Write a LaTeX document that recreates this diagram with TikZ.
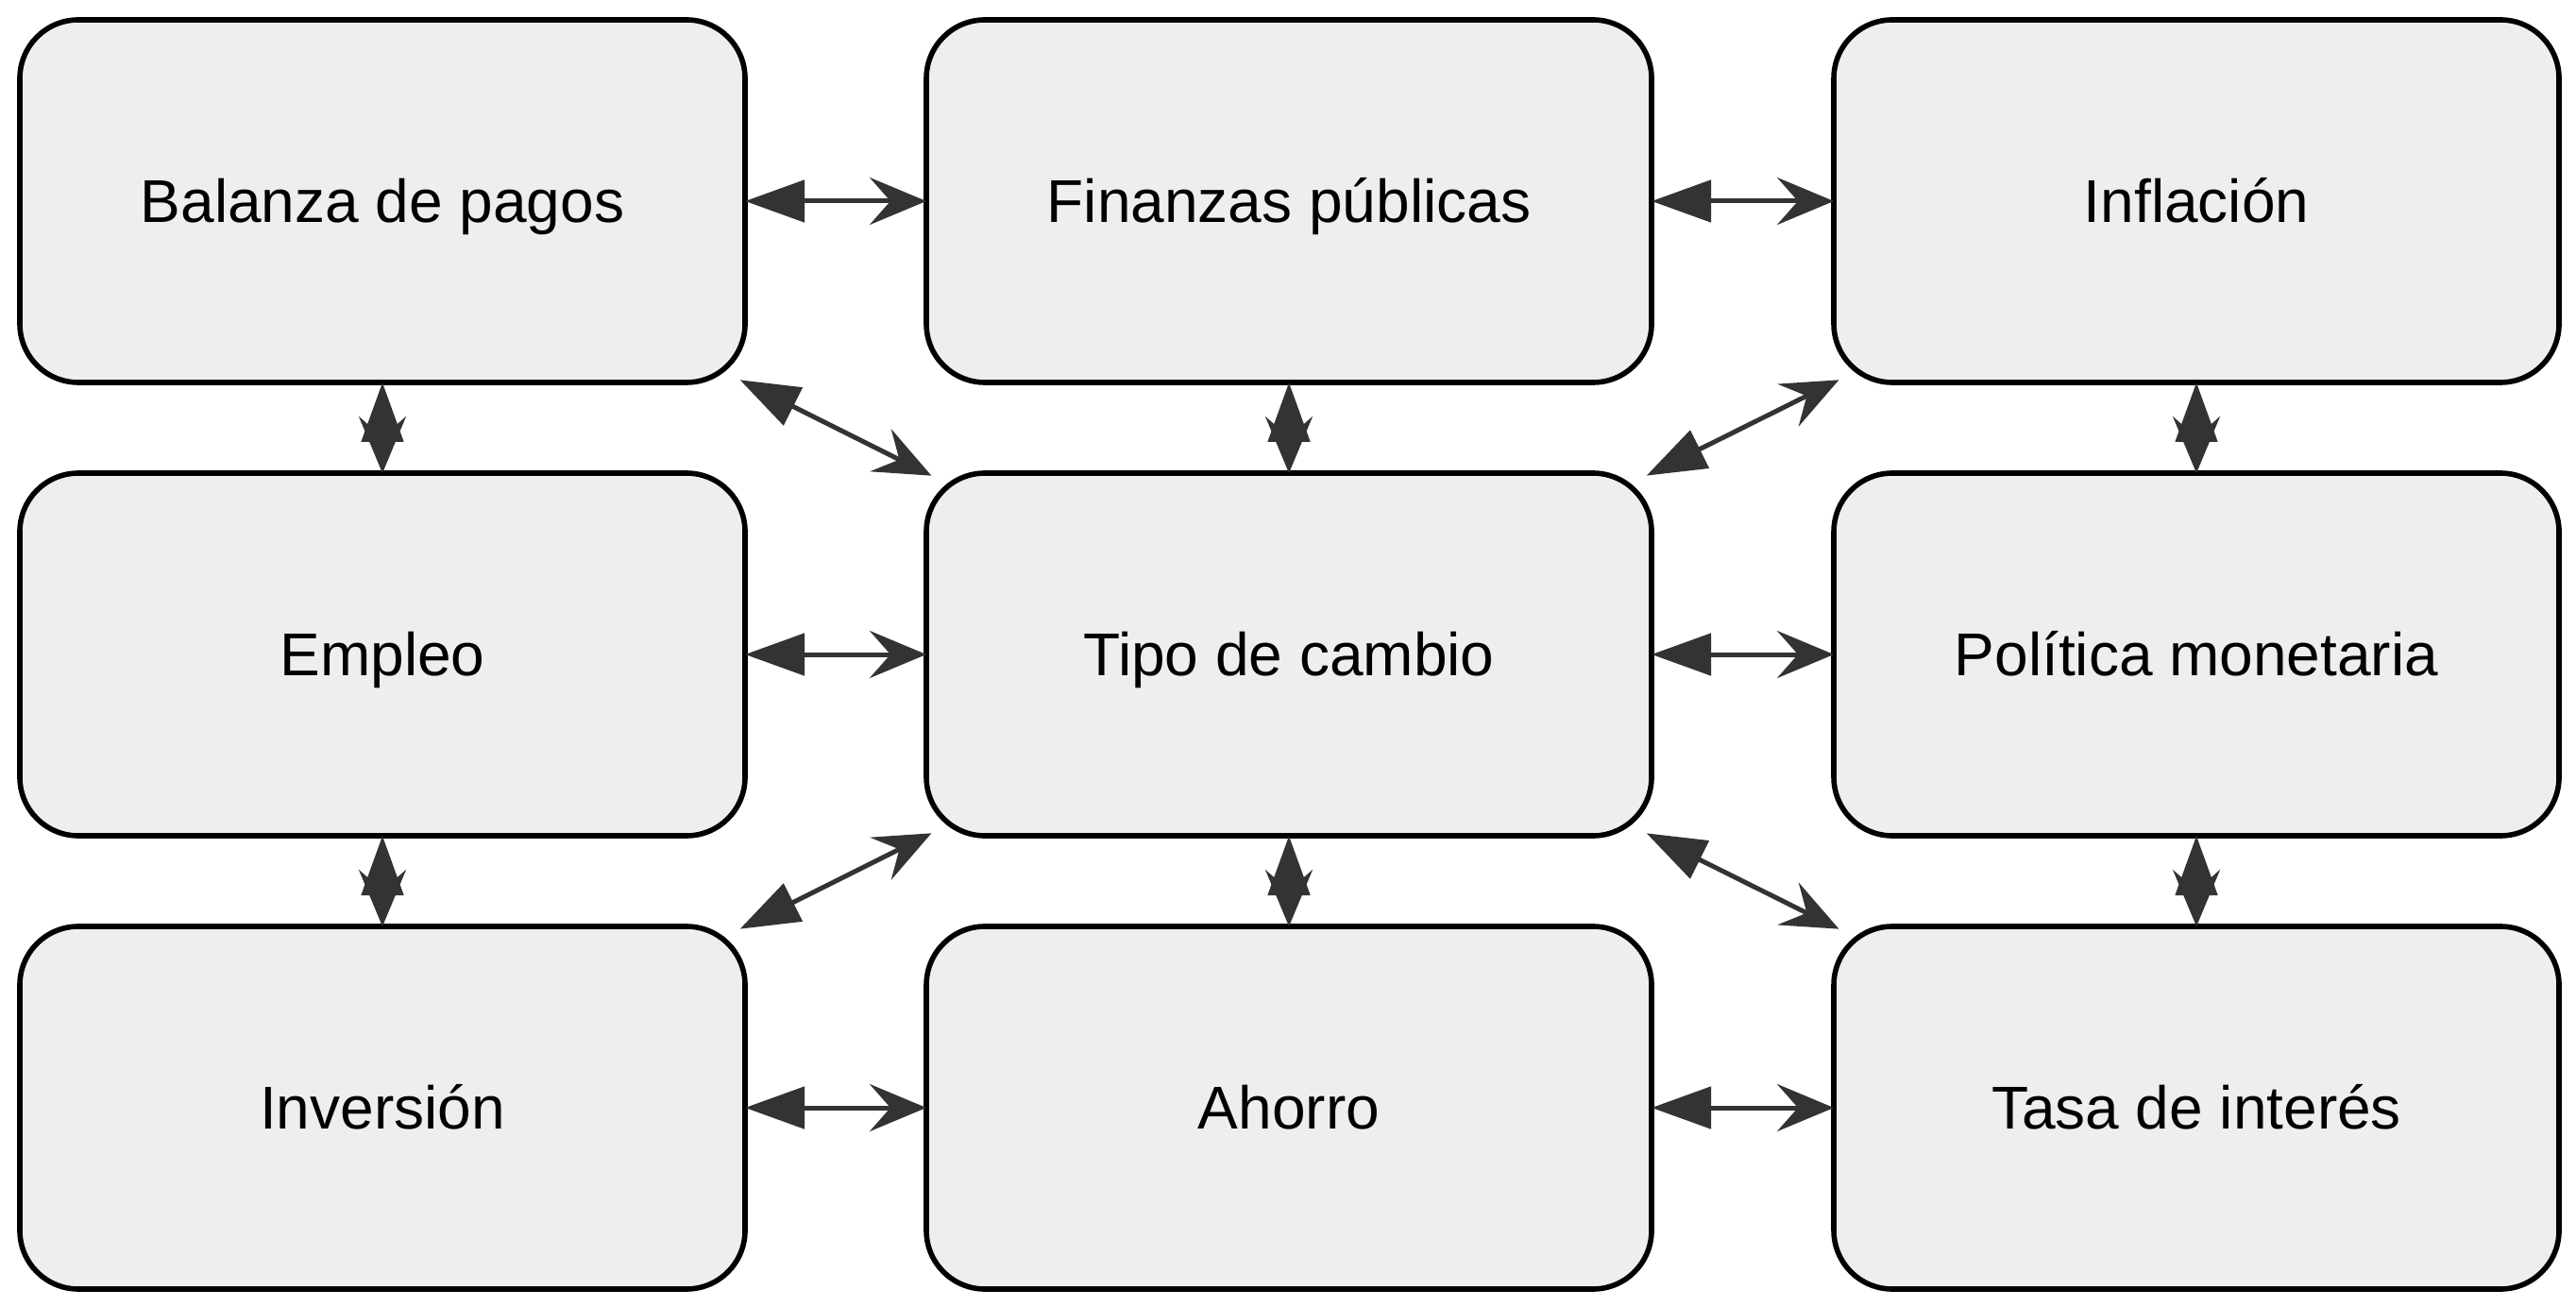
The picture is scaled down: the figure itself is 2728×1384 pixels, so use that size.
\documentclass[tikz,border=0pt]{standalone}
\usepackage{fontspec}
\setmainfont{Liberation Sans}
\usetikzlibrary{arrows.meta}
\definecolor{boxfill}{HTML}{EEEEEE}
\definecolor{edgecol}{HTML}{333333}
\tikzset{
  box/.style={draw=black, fill=boxfill, line width=2.8pt, rounded corners=31pt,
    minimum width=384pt, minimum height=192pt, inner sep=0pt, outer sep=0pt,
    font=\fontsize{32pt}{38pt}\selectfont, text=black,
    text height=29pt, text depth=6.8pt},
  link/.style={draw=edgecol, line width=2.5pt,
    {Triangle[length=31.5pt,width=22pt]}-{Stealth[length=30pt,width=25pt,inset=11pt]}},
  diag/.style={shorten <=-3pt, shorten >=-3pt}
}
\begin{document}
\begin{tikzpicture}[x=0.5pt,y=-0.5pt]
\useasboundingbox (0,0) rectangle (2728,1384);
\node[box] (bp) at (405,213) {Balanza de pagos};
\node[box] (fp) at (1365,213) {Finanzas públicas};
\node[box] (inf) at (2326,213) {Inflación};
\node[box] (emp) at (405,693) {Empleo};
\node[box] (tc) at (1365,693) {Tipo de cambio};
\node[box] (pm) at (2326,693) {Política monetaria};
\node[box] (inv) at (405,1173) {Inversión};
\node[box] (aho) at (1365,1173) {Ahorro};
\node[box] (ti) at (2326,1173) {Tasa de interés};
% horizontal
\draw[link] (bp.east) -- (fp.west);
\draw[link] (fp.east) -- (inf.west);
\draw[link] (emp.east) -- (tc.west);
\draw[link] (tc.east) -- (pm.west);
\draw[link] (inv.east) -- (aho.west);
\draw[link] (aho.east) -- (ti.west);
% vertical
\draw[link] (bp.south) -- (emp.north);
\draw[link] (emp.south) -- (inv.north);
\draw[link] (fp.south) -- (tc.north);
\draw[link] (tc.south) -- (aho.north);
\draw[link] (inf.south) -- (pm.north);
\draw[link] (pm.south) -- (ti.north);
% diagonal
\draw[link,diag] (bp.south east) -- (tc.north west);
\draw[link,diag] (tc.north east) -- (inf.south west);
\draw[link,diag] (inv.north east) -- (tc.south west);
\draw[link,diag] (tc.south east) -- (ti.north west);
\end{tikzpicture}
\end{document}
